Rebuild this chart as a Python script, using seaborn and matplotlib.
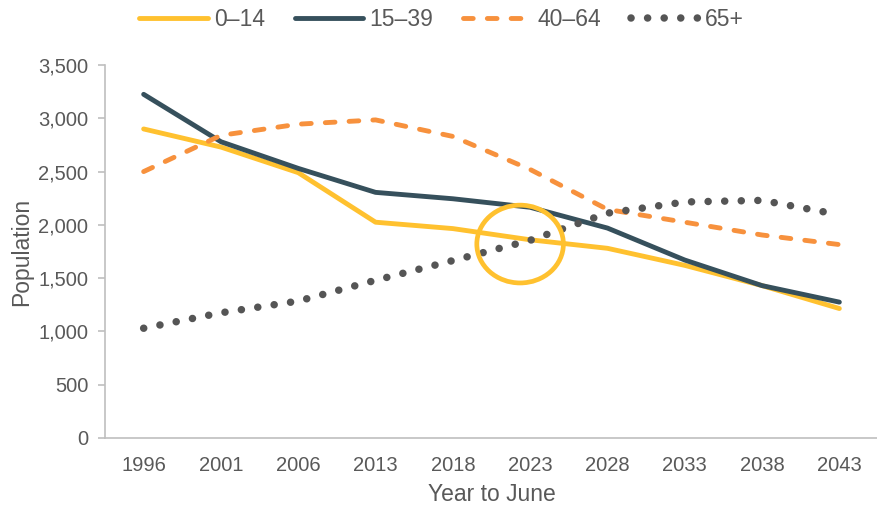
import pandas as pd
import matplotlib.pyplot as plt
import seaborn as sns
from matplotlib.patches import Ellipse

# values
years = ["1996", "2001", "2006", "2013", "2018", "2023", "2028", "2033", "2038", "2043"]
age_0_14 = [2900, 2730, 2490, 2025, 1965, 1860, 1780, 1620, 1430, 1215]
age_15_39 = [3225, 2780, 2530, 2305, 2245, 2165, 1970, 1670, 1430, 1275]
age_40_64 = [2500, 2840, 2945, 2985, 2830, 2520, 2145, 2025, 1905, 1815]
age_65_plus = [1030, 1175, 1285, 1480, 1665, 1855, 2110, 2215, 2230, 2095]
groups = ["0\u201314", "15\u201339", "40\u201364", "65+"]

palette = {groups[0]: "#FFC12F", groups[1]: "#36505C",
           groups[2]: "#F7913D", groups[3]: "#555555"}
dashes = {groups[0]: "", groups[1]: "", groups[2]: (2.0, 2.9), groups[3]: (0.01, 2.2)}

TEXT = "#595959"
AXIS = "#BFBFBF"


def main():
    df = pd.DataFrame({
        "year": years * 4,
        "value": age_0_14 + age_15_39 + age_40_64 + age_65_plus,
        "group": [g for g in groups for _ in years],
    })

    sns.set_style("white")
    plt.rcParams["font.family"] = ["Liberation Sans", "DejaVu Sans"]

    fig = plt.figure(figsize=(8.78, 5.08), dpi=100)
    ax = fig.add_axes([0.1196, 0.1378, 0.8804, 0.7342])

    sns.lineplot(data=df, x="year", y="value", hue="group", style="group",
                 palette=palette, dashes=dashes, hue_order=groups, style_order=groups,
                 sort=False, linewidth=3.5, legend=False, ax=ax,
                 dash_capstyle="round")
    # dotted 65+ line is drawn with bigger dots
    ax.lines[3].set_linewidth(5.4)

    # highlight circle around the 2023 crossover
    idx = years.index("2023")
    ax.add_patch(Ellipse((idx - 0.13, 1820), width=1.12, height=730, fill=False,
                         edgecolor=palette[groups[0]], linewidth=3.4, zorder=5))

    ax.set_xlim(-0.5, len(years) - 0.5)
    ax.set_ylim(0, 3500)
    ax.set_yticks(range(0, 3501, 500))
    ax.yaxis.set_major_formatter(plt.FuncFormatter(lambda v, _: f"{v:,.0f}"))

    ax.set_xlabel("Year to June", fontsize=16.5, color=TEXT, labelpad=6)
    ax.set_ylabel("Population", fontsize=16.5, color=TEXT, labelpad=4)
    ax.tick_params(axis="y", labelsize=14.5, colors=TEXT, length=5, width=1.2,
                   color=AXIS, pad=7, left=True)
    ax.tick_params(axis="x", labelsize=14.5, colors=TEXT, length=0, pad=13)

    sns.despine(ax=ax)
    for side in ["left", "bottom"]:
        ax.spines[side].set_color(AXIS)
        ax.spines[side].set_linewidth(1.2)

    fig.legend(ax.lines[:4], groups, loc="upper center", bbox_to_anchor=(0.503, 1.025),
               ncol=4, frameon=False, fontsize=16.5, handlelength=3.0,
               handletextpad=0.25, columnspacing=1.3, labelcolor=TEXT)

    fig.savefig("out.png", dpi=100)
    plt.close(fig)


if __name__ == "__main__":
    main()
